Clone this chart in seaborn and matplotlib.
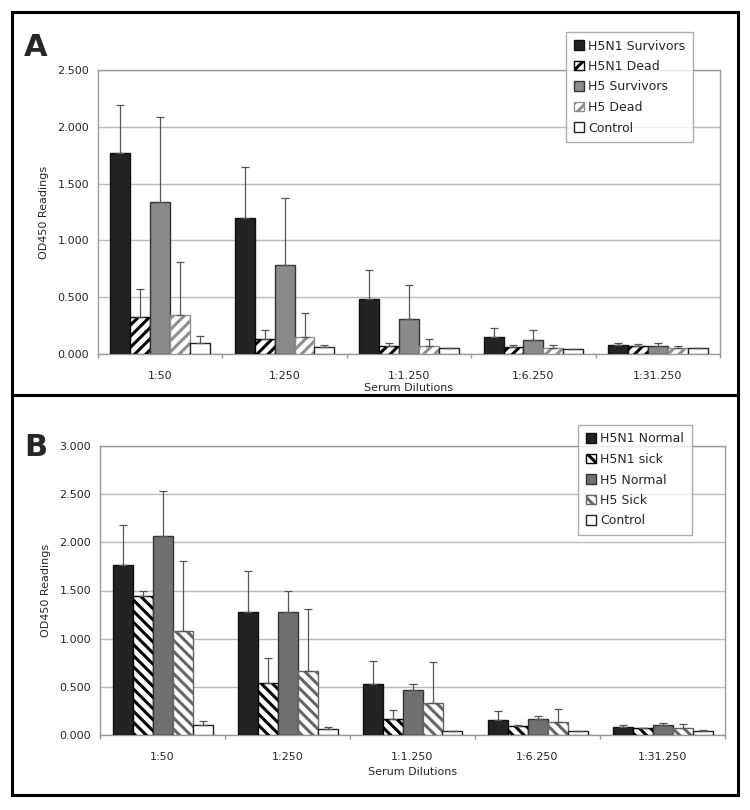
import numpy as np
import pandas as pd
import matplotlib
matplotlib.use("Agg")
import matplotlib.pyplot as plt
import seaborn as sns
from matplotlib.patches import Rectangle, Patch
from matplotlib.ticker import FuncFormatter, MultipleLocator

dilutions = ["1:50", "1:250", "1:1.250", "1:6.250", "1:31.250"]

groups_a = ["H5N1 Survivors", "H5N1 Dead", "H5 Survivors", "H5 Dead", "Control"]
means_a = {
    "H5N1 Survivors": [1.77, 1.20, 0.48, 0.15, 0.08],
    "H5N1 Dead":      [0.33, 0.13, 0.07, 0.06, 0.07],
    "H5 Survivors":   [1.34, 0.78, 0.31, 0.12, 0.07],
    "H5 Dead":        [0.34, 0.15, 0.07, 0.05, 0.05],
    "Control":        [0.10, 0.06, 0.05, 0.04, 0.05],
}
err_a = {
    "H5N1 Survivors": [0.42, 0.45, 0.26, 0.08, 0.02],
    "H5N1 Dead":      [0.24, 0.08, 0.03, 0.02, 0.02],
    "H5 Survivors":   [0.75, 0.59, 0.30, 0.09, 0.03],
    "H5 Dead":        [0.47, 0.21, 0.06, 0.03, 0.02],
    "Control":        [0.06, 0.02, 0.00, 0.005, 0.00],
}

groups_b = ["H5N1 Normal", "H5N1 sick", "H5 Normal", "H5 Sick", "Control"]
means_b = {
    "H5N1 Normal": [1.76, 1.28, 0.53, 0.16, 0.08],
    "H5N1 sick":   [1.44, 0.54, 0.17, 0.09, 0.07],
    "H5 Normal":   [2.07, 1.28, 0.47, 0.17, 0.10],
    "H5 Sick":     [1.08, 0.66, 0.33, 0.13, 0.07],
    "Control":     [0.10, 0.06, 0.04, 0.04, 0.04],
}
err_b = {
    "H5N1 Normal": [0.42, 0.42, 0.24, 0.09, 0.02],
    "H5N1 sick":   [0.06, 0.26, 0.09, 0.01, 0.005],
    "H5 Normal":   [0.46, 0.21, 0.06, 0.03, 0.02],
    "H5 Sick":     [0.73, 0.65, 0.43, 0.14, 0.04],
    "Control":     [0.05, 0.02, 0.00, 0.00, 0.01],
}

styles_a = [
    dict(fc="#232323", ec="#111111", hatch=None),
    dict(fc="white", ec="black", hatch="///"),
    dict(fc="#8a8a8a", ec="#333333", hatch=None),
    dict(fc="white", ec="#8f8f8f", hatch="///"),
    dict(fc="white", ec="#222222", hatch=None),
]
styles_b = [
    dict(fc="#232323", ec="#111111", hatch=None),
    dict(fc="white", ec="black", hatch="\\\\\\"),
    dict(fc="#707070", ec="#333333", hatch=None),
    dict(fc="white", ec="#666666", hatch="\\\\\\"),
    dict(fc="white", ec="#222222", hatch=None),
]


def make_df(groups, means, errs):
    rows = []
    for g in groups:
        for d, m, e in zip(dilutions, means[g], errs[g]):
            rows.append(dict(Dilution=d, Group=g, Value=m, Err=e))
    return pd.DataFrame(rows)


def draw(ax, groups, means, errs, styles, ymax, legend_bbox, xlabelpad):
    df = make_df(groups, means, errs)
    sns.barplot(data=df, x="Dilution", y="Value", hue="Group", order=dilutions,
                hue_order=groups, errorbar=None, width=0.8, ax=ax, legend=False,
                linewidth=1.0, zorder=3)
    for gi, g in enumerate(groups):
        cont = ax.containers[gi]
        st = styles[gi]
        xs, ys = [], []
        for bar in cont:
            bar.set_facecolor(st["fc"])
            bar.set_edgecolor(st["ec"])
            bar.set_linewidth(1.0)
            if st["hatch"]:
                bar.set_hatch(st["hatch"])
            xs.append(bar.get_x() + bar.get_width() / 2)
            ys.append(bar.get_height())
        e = np.array(errs[g])
        ax.errorbar(xs, ys, yerr=[np.zeros_like(e), e], fmt="none",
                    ecolor="#555555", elinewidth=0.9, capsize=3, capthick=0.9, zorder=4)
    ax.set_ylim(0, ymax)
    ax.set_xlim(-0.5, 4.5)
    ax.yaxis.set_major_locator(MultipleLocator(0.5))
    ax.yaxis.set_major_formatter(FuncFormatter(lambda v, p: f"{v:.3f}"))
    ax.set_xticks(np.arange(-0.5, 5.0, 1.0), minor=True)
    ax.grid(axis="y", color="#bbbbbb", linewidth=1.0, zorder=0)
    ax.grid(axis="x", visible=False)
    ax.set_axisbelow(True)
    for s in ax.spines.values():
        s.set_color("#999999")
        s.set_linewidth(1.0)
    ax.tick_params(axis="both", labelsize=8, length=3, color="#999999")
    ax.tick_params(axis="x", which="major", length=0, pad=12)
    ax.tick_params(axis="x", which="minor", length=3, color="#999999", bottom=True)
    ax.set_xlabel("Serum Dilutions", fontsize=8, labelpad=xlabelpad)
    ax.set_ylabel("OD450 Readings", fontsize=8, labelpad=6)
    handles = [Patch(facecolor=s["fc"], edgecolor=s["ec"], hatch=s["hatch"], label=g)
               for g, s in zip(groups, styles)]
    leg = ax.legend(handles=handles, loc="upper left", bbox_to_anchor=legend_bbox,
                    bbox_transform=ax.figure.transFigure, fontsize=9,
                    frameon=True, fancybox=False, edgecolor="#999999",
                    handlelength=0.8, handleheight=0.8, handletextpad=0.4,
                    labelspacing=0.6, borderpad=0.6, borderaxespad=0)
    leg.get_frame().set_linewidth(1.0)
    leg.set_zorder(10)


sns.set_theme(style="white")
plt.rcParams["font.family"] = ["DejaVu Sans"]
plt.rcParams["hatch.linewidth"] = 2.2

fig = plt.figure(figsize=(7.5, 8.1), dpi=100)
W, H = 750, 810

def fx(x): return x / W
def fy(y): return 1 - y / H

axA = fig.add_axes([fx(98), fy(354), fx(720) - fx(98), fy(70) - fy(354)])
axB = fig.add_axes([fx(100), fy(735), fx(725) - fx(100), fy(446) - fy(735)])

draw(axA, groups_a, means_a, err_a, styles_a, 2.5, (fx(566), fy(32)), 2)
draw(axB, groups_b, means_b, err_b, styles_b, 3.0, (fx(578), fy(425)), 4)

# panel frames
fig.patches.append(Rectangle((fx(12), fy(395)), fx(738) - fx(12), fy(12) - fy(395),
                             transform=fig.transFigure, fill=False, edgecolor="black",
                             linewidth=2.2))
fig.patches.append(Rectangle((fx(12), fy(795)), fx(738) - fx(12), fy(395) - fy(795),
                             transform=fig.transFigure, fill=False, edgecolor="black",
                             linewidth=2.2))
fig.text(fx(24), fy(48), "A", fontsize=22, fontweight="bold", family="DejaVu Sans",
         ha="left", va="center")
fig.text(fx(24), fy(448), "B", fontsize=22, fontweight="bold", family="DejaVu Sans",
         ha="left", va="center")

fig.savefig("out.png", dpi=100, facecolor="white")
